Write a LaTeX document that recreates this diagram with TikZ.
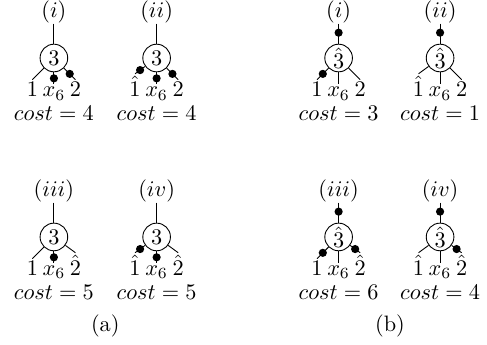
\documentclass[tikz,border=0pt]{standalone}
\usetikzlibrary{positioning}

\begin{document}
\begin{tikzpicture}[vtx/.style={circle, draw, minimum size=12.4pt, inner sep=0pt}, dot/.style={circle, fill=black, inner sep=1.3pt}, nodot/.style={inner sep=0pt}, leaf/.style={inner sep=1pt, anchor=base}, lab/.style={inner sep=0pt}]
\useasboundingbox (0,0) rectangle (7.68,5.44);
\foreach \nm/\px/\py/\rn/\vl/\lft/\rgt/\cst/\dtop/\dlft/\dmd/\drgt in {
  ai/0.85/4.525/i/3/1/2/4/nodot/nodot/dot/dot,
  aii/2.47/4.525/ii/3/\hat{1}/2/4/nodot/dot/dot/dot,
  aiii/0.85/1.703/iii/3/1/\hat{2}/5/nodot/nodot/dot/nodot,
  aiv/2.47/1.703/iv/3/\hat{1}/\hat{2}/5/nodot/dot/dot/nodot,
  bi/5.34/4.525/i/\hat{3}/1/2/3/dot/dot/nodot/nodot,
  bii/6.94/4.525/ii/\hat{3}/\hat{1}/2/1/dot/nodot/nodot/nodot,
  biii/5.34/1.703/iii/\hat{3}/1/\hat{2}/6/dot/dot/nodot/dot,
  biv/6.94/1.703/iv/\hat{3}/\hat{1}/\hat{2}/4/dot/nodot/nodot/dot}
{
  \node[vtx] (\nm) at (\px,\py) {$\vl$};
  \node[lab] (\nm-t) at (\px,\py+0.725) {$(\rn)$};
  \node[leaf] (\nm-l) at (\px-0.34,\py-0.61) {$\lft$};
  \node[leaf] (\nm-m) at (\px,\py-0.61) {$x_6$};
  \node[leaf] (\nm-r) at (\px+0.34,\py-0.61) {$\rgt$};
  \node (\nm-c) at (\px,\py-0.88) {$cost=\cst$};
  \draw (\nm-t) -- node[\dtop, pos=0.45] {} (\nm);
  \draw (\nm) -- node[\dlft] {} (\nm-l.north);
  \draw (\nm) -- node[\dmd] {} (\nm-m.north);
  \draw (\nm) -- node[\drgt] {} (\nm-r.north);
}
\node (capa) at (1.66,0.30) {(a)};
\node (capb) at (6.15,0.30) {(b)};
\end{tikzpicture}
\end{document}
